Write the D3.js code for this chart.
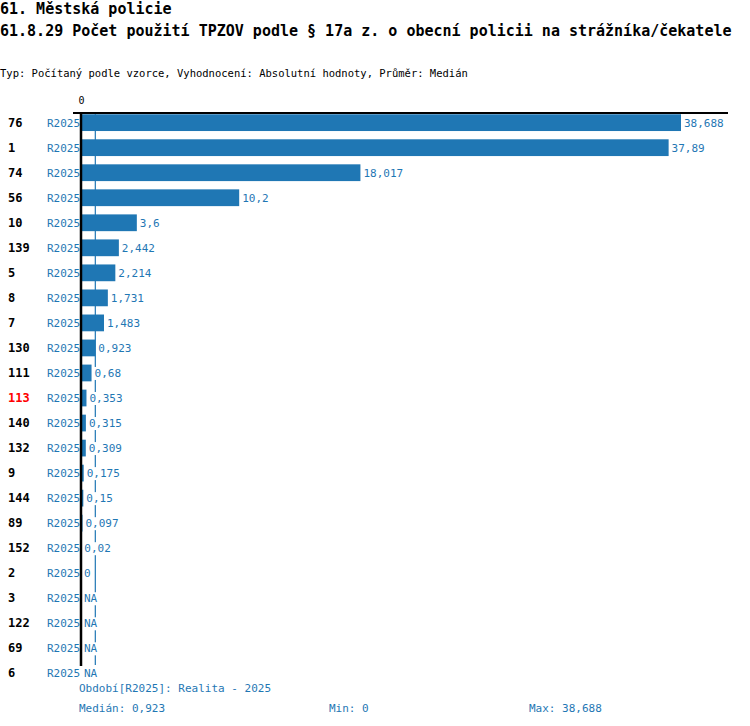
<!DOCTYPE html>
<html><head><meta charset="utf-8">
<script src="https://cdn.jsdelivr.net/npm/d3@7"></script>
<style>body{margin:0;background:#fff}text{font-family:"DejaVu Sans Mono",monospace}</style>
</head><body><svg id="c" width="750" height="726"></svg>
<script>
const categories = ["76","1","74","56","10","139","5","8","7","130","111","113","140","132","9","144","89","152","2","3","122","69","6"];
const values = [38.688,37.89,18.017,10.2,3.6,2.442,2.214,1.731,1.483,0.923,0.68,0.353,0.315,0.309,0.175,0.15,0.097,0.02,0,null,null,null,null];
const labels = ["38,688","37,89","18,017","10,2","3,6","2,442","2,214","1,731","1,483","0,923","0,68","0,353","0,315","0,309","0,175","0,15","0,097","0,02","0","NA","NA","NA","NA"];
const highlight = "113";
const median = 0.923, maxV = 38.688;
const blue = "#1f77b4";

const svg = d3.select("#c");
svg.append("text").attr("x",0).attr("y",14).attr("font-size",15).attr("font-weight","bold").text("61. Městská policie");
svg.append("text").attr("x",0).attr("y",36).attr("font-size",15).attr("font-weight","bold").text("61.8.29 Počet použití TPZOV podle § 17a z. o obecní policii na strážníka/čekatele");
svg.append("text").attr("x",0).attr("y",77).attr("font-size",10.5).text("Typ: Počítaný podle vzorce, Vyhodnocení: Absolutní hodnoty, Průměr: Medián");

const x = d3.scaleLinear().domain([0,maxV]).range([81,681]);
const y = d3.scaleBand().domain(categories).range([110,686]).paddingInner(0.33).paddingOuter(0.17);

svg.append("line").attr("x1",x(median)).attr("x2",x(median)).attr("y1",113).attr("y2",665).attr("stroke",blue).attr("stroke-width",1.2);

const rows = svg.selectAll("g.r").data(categories).join("g");
rows.append("rect").attr("x",x(0)).attr("y",c=>y(c)).attr("height",y.bandwidth())
  .attr("width",(c,i)=>values[i]==null?0:x(values[i])-x(0)).attr("fill",blue);
rows.append("text").attr("x",8).attr("y",c=>y(c)+y.bandwidth()/2+4).attr("font-size",12).attr("font-weight","bold")
  .attr("fill",c=>c===highlight?"red":"#000").text(c=>c);
rows.append("text").attr("x",47).attr("y",c=>y(c)+y.bandwidth()/2+4).attr("font-size",11).attr("fill",blue).text("R2025");
rows.each(function(c,i){
  const g=d3.select(this), v=values[i]==null?0:values[i];
  const t=g.append("text").attr("x",x(v)+3).attr("y",y(c)+y.bandwidth()/2+4).attr("font-size",11).attr("fill",blue).text(labels[i]);
  const b=t.node().getBBox();
  g.insert("rect","text:last-child").attr("x",b.x-1).attr("y",b.y).attr("width",b.width+2).attr("height",b.height).attr("fill","#fff");
});

const ax = svg.append("g").attr("transform","translate(0,113)").call(d3.axisTop(x).tickValues([0]).tickSize(6).tickFormat(d3.format("d")));
ax.select(".domain").attr("d",`M${x(0)-8},0H${x(maxV)+47}`).attr("stroke-width",2);
ax.selectAll("text").attr("font-size",10).attr("font-family","DejaVu Sans Mono");
ax.selectAll(".tick line").remove();
svg.append("line").attr("x1",x(0)).attr("x2",x(0)).attr("y1",112).attr("y2",666).attr("stroke","#000").attr("stroke-width",2.5);

svg.append("text").attr("x",79).attr("y",692).attr("font-size",11).attr("fill",blue).text("Období[R2025]: Realita - 2025");
svg.append("text").attr("x",79).attr("y",712).attr("font-size",11).attr("fill",blue).text("Medián: 0,923");
svg.append("text").attr("x",329).attr("y",712).attr("font-size",11).attr("fill",blue).text("Min: 0");
svg.append("text").attr("x",529).attr("y",712).attr("font-size",11).attr("fill",blue).text("Max: 38,688");
</script></body></html>
